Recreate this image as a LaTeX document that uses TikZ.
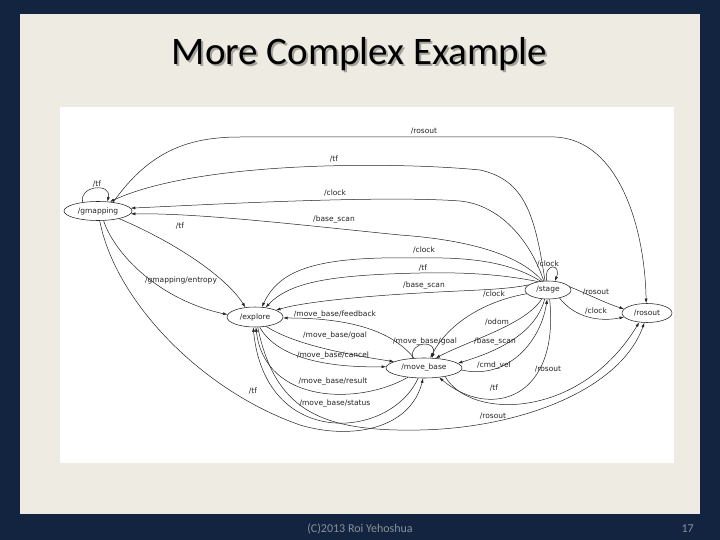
\documentclass[tikz,border=0pt]{standalone}
\usepackage{fontspec}
\setmainfont{Carlito}
\newfontfamily\graphfont{DejaVu Sans}
\usetikzlibrary{arrows.meta,shapes.geometric}
\definecolor{slidenavy}{RGB}{18,36,63}
\definecolor{slidebeige}{RGB}{238,236,226}
\definecolor{footgray}{RGB}{138,145,156}
\definecolor{shadowgray}{RGB}{165,163,156}
\definecolor{ink}{RGB}{35,35,35}
\begin{document}
\begin{tikzpicture}[x=1pt,y=-1pt,
  titletext/.style={anchor=base,inner sep=0pt,font=\fontsize{39}{44}\selectfont,text=black},
  foot/.style={anchor=base,inner sep=0pt,font=\fontsize{12}{14}\selectfont,text=footgray},
  topic/.style={ellipse,draw=ink,line width=0.55pt,fill=white,inner sep=0pt,font=\graphfont\fontsize{7.5}{8}\selectfont,text=ink},
  lbl/.style={inner sep=0pt,font=\graphfont\fontsize{7.5}{8}\selectfont,text=ink},
  edge/.style={draw=ink,line width=0.5pt,-{Latex[length=4.5pt,width=3pt]}}]
\useasboundingbox (0,0) rectangle (720,540);
\fill[slidenavy] (0,0) rectangle (720,540);
\fill[slidebeige] (20,14) rectangle (700,514);
\fill[white] (60,107) rectangle (674,463);
\node[titletext,text=shadowgray] (titleshadow) at (361.5,67) {More Complex Example};
\node[titletext] (title) at (359.5,65) {More Complex Example};
\node[foot] (footer) at (360,532) {(C)2013 Roi Yehoshua};
\node[foot,anchor=base east] (pagenum) at (694,532) {17};

% topic nodes
\node[topic,minimum width=68pt,minimum height=19pt] (gm) at (98,211) {/gmapping};
\node[topic,minimum width=56pt,minimum height=20pt] (ex) at (255,317) {/explore};
\node[topic,minimum width=76pt,minimum height=20pt] (mb) at (424,368) {/move\_base};
\node[topic,minimum width=46pt,minimum height=18pt] (st) at (548,290) {/stage};
\node[topic,minimum width=50pt,minimum height=19pt] (ro) at (647,313) {/rosout};

% edges
\draw[edge] (gm.30) .. controls (150,150) and (190,137) .. (240,137) -- (555,137) .. controls (620,140) and (645,230) .. (ro.95);
\draw[edge] (st.108) .. controls (535,215) and (525,180) .. (480,170) .. controls (400,162) and (200,160) .. (gm.38);
\draw[edge] (st.115) .. controls (530,240) and (500,205) .. (460,201) .. controls (380,195) and (200,205) .. (gm.5);
\draw[edge] (st.122) .. controls (520,255) and (470,240) .. (400,235) .. controls (300,225) and (200,213) .. (gm.-5);
\draw[edge] (gm.150) .. controls (78,186) and (112,182) .. (gm.45);
\draw[edge] (gm.-20) .. controls (170,240) and (225,275) .. (ex.135);
\draw[edge] (gm.-60) .. controls (115,255) and (160,300) .. (ex.175);
\draw[edge] (gm.-80) .. controls (115,300) and (200,390) .. (300,425) .. controls (350,440) and (410,430) .. (mb.-95);
\draw[edge] (st.130) .. controls (510,262) and (470,257) .. (420,258) .. controls (320,256) and (280,268) .. (ex.55);
\draw[edge] (st.140) .. controls (505,275) and (470,272) .. (420,273) .. controls (330,275) and (290,282) .. (ex.42);
\draw[edge] (st.165) .. controls (505,290) and (470,290) .. (420,293) .. controls (350,297) and (300,303) .. (ex.18);
\draw[edge] (mb.135) .. controls (395,335) and (360,318) .. (ex.-2);
\draw[edge] (ex.-40) .. controls (295,345) and (350,355) .. (mb.168);
\draw[edge] (ex.-65) .. controls (275,355) and (320,368) .. (mb.178);
\draw[edge] (mb.-150) .. controls (360,405) and (265,405) .. (ex.-85);
\draw[edge] (mb.-120) .. controls (390,440) and (265,450) .. (ex.-100);
\draw[edge] (ex.-75) .. controls (275,410) and (320,432) .. (420,430) .. controls (520,428) and (620,390) .. (ro.-105);
\draw[edge] (mb.-22) .. controls (470,420) and (580,420) .. (ro.-130);
\draw[edge] (mb.140) .. controls (410,340) and (438,340) .. (mb.52);
\draw[edge] (st.-170) .. controls (490,300) and (450,320) .. (mb.58);
\draw[edge] (st.-125) .. controls (525,325) and (470,340) .. (mb.40);
\draw[edge] (st.-110) .. controls (535,335) and (495,352) .. (mb.8);
\draw[edge] (mb.-3) .. controls (505,380) and (540,345) .. (st.-95);
\draw[edge] (st.-80) .. controls (560,400) and (490,420) .. (mb.-32);
\draw[edge] (st.8) .. controls (590,295) and (605,303) .. (ro.170);
\draw[edge] (st.-35) .. controls (575,318) and (600,322) .. (ro.-170);
\draw[edge] (st.98) .. controls (543,263) and (562,263) .. (st.52);

% edge labels
\node[lbl] (l1) at (424,131) {/rosout};
\node[lbl] (l2) at (334,159) {/tf};
\node[lbl] (l3) at (335,193) {/clock};
\node[lbl] (l4) at (334,220) {/base\_scan};
\node[lbl] (l5) at (97,184) {/tf};
\node[lbl] (l6) at (180,226) {/tf};
\node[lbl] (l7) at (181,280) {/gmapping/entropy};
\node[lbl] (l8) at (253,391) {/tf};
\node[lbl] (l9) at (424,250) {/clock};
\node[lbl] (l10) at (423,268) {/tf};
\node[lbl] (l11) at (424,286) {/base\_scan};
\node[lbl] (l12) at (335,315) {/move\_base/feedback};
\node[lbl] (l13) at (335,336) {/move\_base/goal};
\node[lbl] (l14) at (333,356) {/move\_base/cancel};
\node[lbl] (l15) at (333,382) {/move\_base/result};
\node[lbl] (l16) at (335,404) {/move\_base/status};
\node[lbl] (l17) at (425,342) {/move\_base/goal};
\node[lbl] (l18) at (494,294) {/clock};
\node[lbl] (l19) at (497,322) {/odom};
\node[lbl] (l20) at (495,342) {/base\_scan};
\node[lbl] (l21) at (494,366) {/cmd\_vel};
\node[lbl] (l22) at (494,388) {/tf};
\node[lbl] (l23) at (548,369) {/rosout};
\node[lbl] (l24) at (493,416) {/rosout};
\node[lbl] (l25) at (596,292) {/rosout};
\node[lbl] (l26) at (596,311) {/clock};
\node[lbl] (l27) at (548,264) {/clock};
\end{tikzpicture}
\end{document}
